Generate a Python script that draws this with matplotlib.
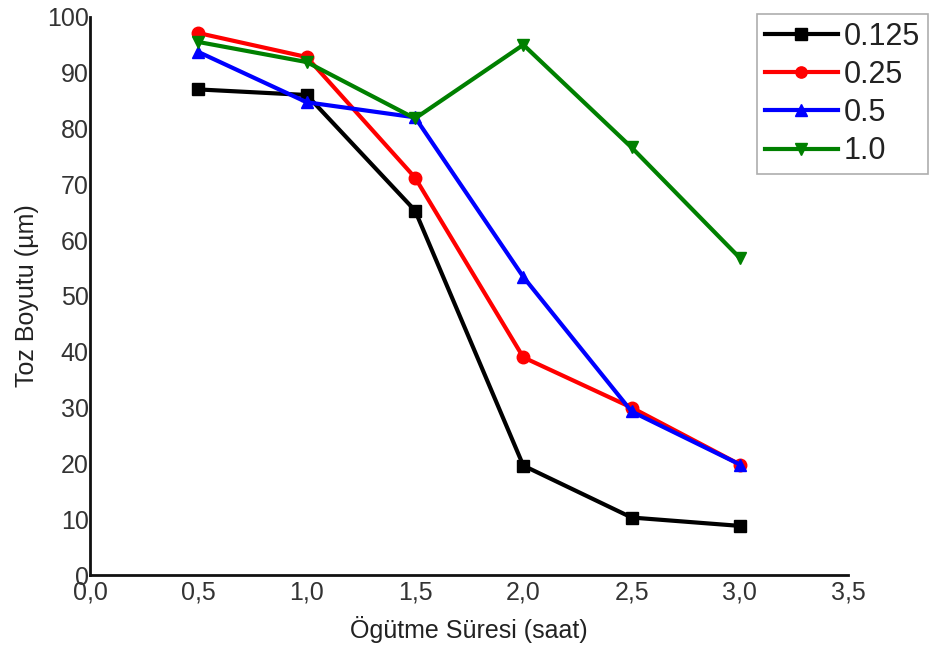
import matplotlib
matplotlib.use("Agg")
import matplotlib.pyplot as plt
from matplotlib.ticker import FixedLocator, FixedFormatter

plt.rcParams['font.family'] = ['Liberation Sans', 'DejaVu Sans']

# Milling time (hours)
sure = [0.5, 1.0, 1.5, 2.0, 2.5, 3.0]

# Powder size (µm) for each ratio
boyut_0125 = [87.0, 86.0, 65.3, 19.6, 10.3, 8.8]
boyut_025 = [97.1, 92.8, 71.2, 39.0, 30.0, 19.8]
boyut_05 = [93.7, 84.7, 82.0, 53.4, 29.3, 19.8]
boyut_10 = [95.5, 91.9, 81.8, 95.0, 76.6, 56.8]

etiketler = ["0.125", "0.25", "0.5", "1.0"]

x_ticks = [0.0, 0.5, 1.0, 1.5, 2.0, 2.5, 3.0, 3.5]
x_tick_labels = ["0,0", "0,5", "1,0", "1,5", "2,0", "2,5", "3,0", "3,5"]
y_ticks = [0, 10, 20, 30, 40, 50, 60, 70, 80, 90, 100]

fig = plt.figure(figsize=(9.3, 6.49), dpi=100)
ax = fig.add_axes([0.097, 0.114, 0.815, 0.860])

seriler = [
    (boyut_0125, "black", "s"),
    (boyut_025, "#ff0000", "o"),
    (boyut_05, "#0000ff", "^"),
    (boyut_10, "#008000", "v"),
]
for (vals, col, mk), lab in zip(seriler, etiketler):
    ax.plot(sure, vals, color=col, marker=mk, lw=3, ms=9, label=lab, clip_on=False)

ax.set_xlim(0, 3.5)
ax.set_ylim(0, 100)
ax.xaxis.set_major_locator(FixedLocator(x_ticks))
ax.xaxis.set_major_formatter(FixedFormatter(x_tick_labels))
ax.set_yticks(y_ticks)

for s in ["top", "right"]:
    ax.spines[s].set_visible(False)
for s in ["left", "bottom"]:
    ax.spines[s].set_linewidth(2)
    ax.spines[s].set_color("#111111")

ax.tick_params(axis="both", length=0, labelsize=18, labelcolor="#333333")
ax.tick_params(axis="x", pad=4)
ax.tick_params(axis="y", pad=1)

ax.set_xlabel("Ögütme Süresi (saat)", fontsize=18, color="#222222", labelpad=8)
ax.set_ylabel("Toz Boyutu (µm)", fontsize=18, color="#222222", labelpad=6)

leg = fig.legend(loc="upper right", bbox_to_anchor=(928 / 930, 1 - 14 / 649),
                 fontsize=22, frameon=True, fancybox=False, handlelength=2.4,
                 handletextpad=0.2, borderpad=0.25, borderaxespad=0,
                 labelspacing=0.27, markerscale=0.9)
leg.get_frame().set_edgecolor("#999999")
leg.get_frame().set_linewidth(1.2)
for t in leg.get_texts():
    t.set_color("#222222")

fig.savefig("out.png", dpi=100)
